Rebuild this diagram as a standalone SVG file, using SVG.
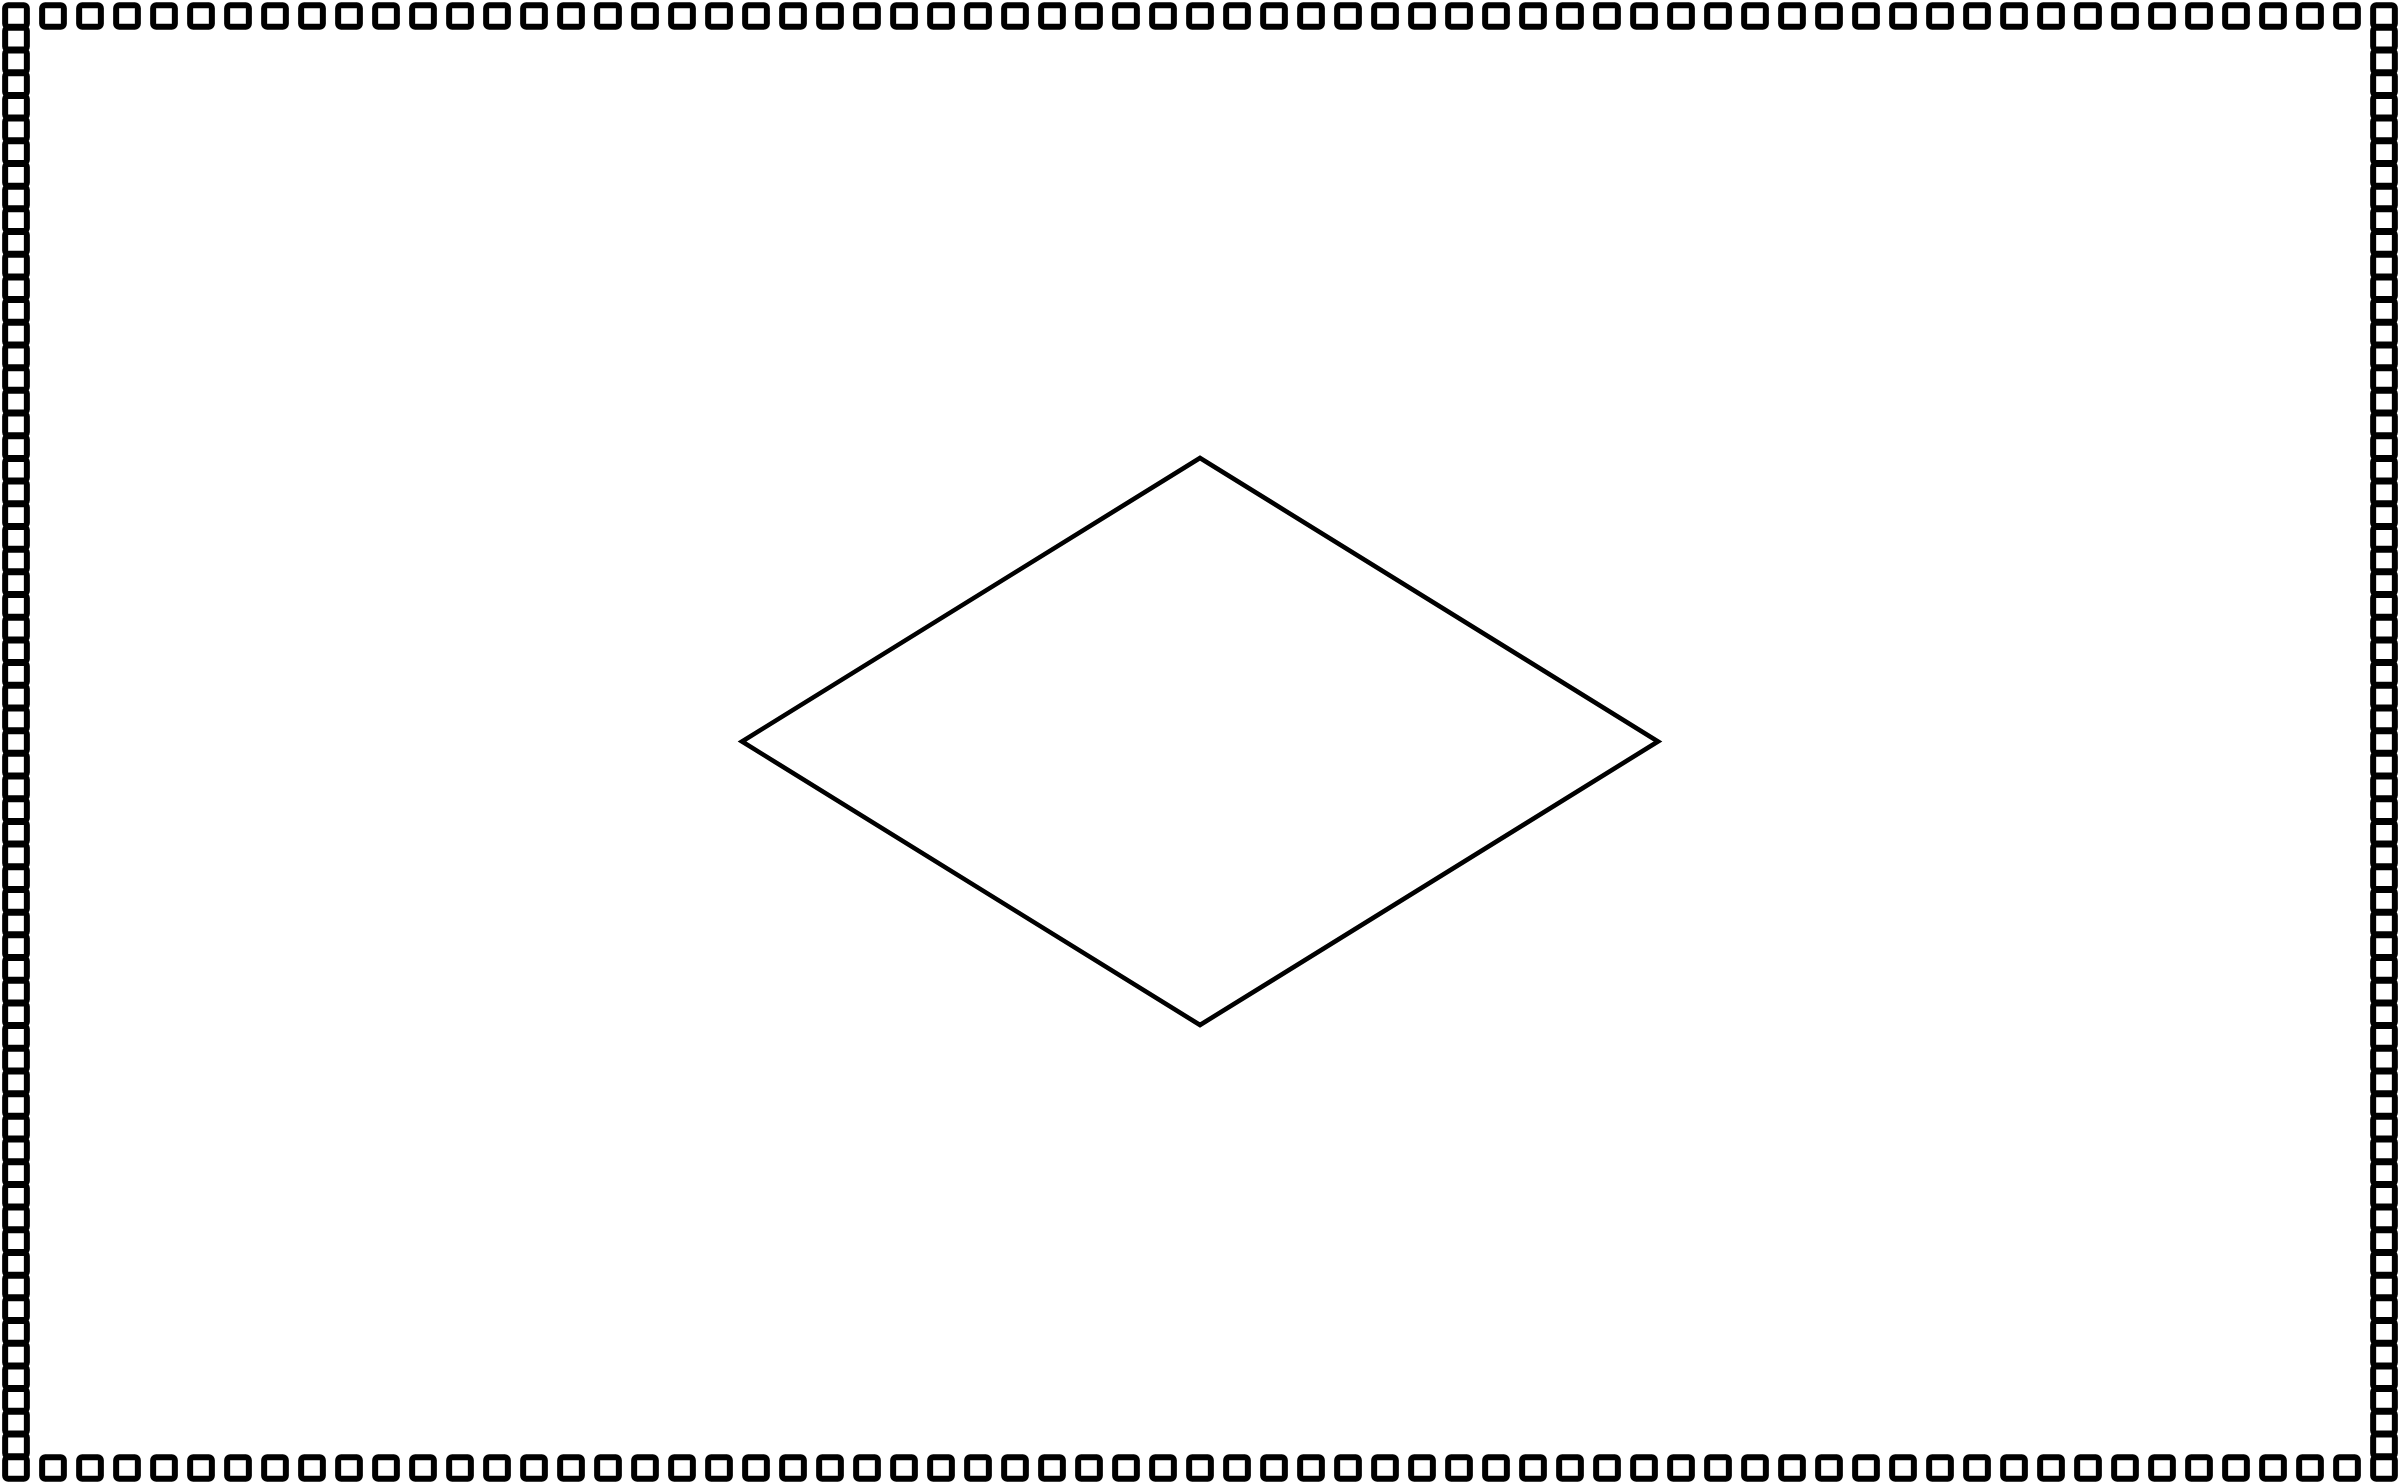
<svg xmlns="http://www.w3.org/2000/svg" xmlns:xlink="http://www.w3.org/1999/xlink" width="2400" height="1483" viewBox="0 0 2400 1483">
<style>
.sq{fill:none;stroke:#000;stroke-width:6}
.shape{fill:none;stroke:#000;stroke-width:4.6;stroke-linejoin:miter}
</style>
<defs>
<rect id="sq" class="sq" x="-10.85" y="-10.85" width="21.7" height="21.7" rx="3" ry="3"/>
</defs>
<rect x="0" y="0" width="2400" height="1483" fill="#fff"/>
<g id="border">
<g id="border-top" transform="translate(0,16)">
<use xlink:href="#sq" x="53"/><use xlink:href="#sq" x="90"/><use xlink:href="#sq" x="127"/><use xlink:href="#sq" x="164"/><use xlink:href="#sq" x="201"/><use xlink:href="#sq" x="238"/><use xlink:href="#sq" x="275"/><use xlink:href="#sq" x="312"/><use xlink:href="#sq" x="349"/><use xlink:href="#sq" x="386"/><use xlink:href="#sq" x="423"/><use xlink:href="#sq" x="460"/><use xlink:href="#sq" x="497"/><use xlink:href="#sq" x="534"/><use xlink:href="#sq" x="571"/><use xlink:href="#sq" x="608"/><use xlink:href="#sq" x="645"/><use xlink:href="#sq" x="682"/><use xlink:href="#sq" x="719"/><use xlink:href="#sq" x="756"/><use xlink:href="#sq" x="793"/><use xlink:href="#sq" x="830"/><use xlink:href="#sq" x="867"/><use xlink:href="#sq" x="904"/><use xlink:href="#sq" x="941"/><use xlink:href="#sq" x="978"/><use xlink:href="#sq" x="1015"/><use xlink:href="#sq" x="1052"/><use xlink:href="#sq" x="1089"/><use xlink:href="#sq" x="1126"/><use xlink:href="#sq" x="1163"/><use xlink:href="#sq" x="1200"/><use xlink:href="#sq" x="1237"/><use xlink:href="#sq" x="1274"/><use xlink:href="#sq" x="1311"/><use xlink:href="#sq" x="1348"/><use xlink:href="#sq" x="1385"/><use xlink:href="#sq" x="1422"/><use xlink:href="#sq" x="1459"/><use xlink:href="#sq" x="1496"/><use xlink:href="#sq" x="1533"/><use xlink:href="#sq" x="1570"/><use xlink:href="#sq" x="1607"/><use xlink:href="#sq" x="1644"/><use xlink:href="#sq" x="1681"/><use xlink:href="#sq" x="1718"/><use xlink:href="#sq" x="1755"/><use xlink:href="#sq" x="1792"/><use xlink:href="#sq" x="1829"/><use xlink:href="#sq" x="1866"/><use xlink:href="#sq" x="1903"/><use xlink:href="#sq" x="1940"/><use xlink:href="#sq" x="1977"/><use xlink:href="#sq" x="2014"/><use xlink:href="#sq" x="2051"/><use xlink:href="#sq" x="2088"/><use xlink:href="#sq" x="2125"/><use xlink:href="#sq" x="2162"/><use xlink:href="#sq" x="2199"/><use xlink:href="#sq" x="2236"/><use xlink:href="#sq" x="2273"/><use xlink:href="#sq" x="2310"/><use xlink:href="#sq" x="2347"/>
</g>
<use id="border-bottom" xlink:href="#border-top" transform="translate(0,1452)"/>
<g id="border-left" transform="translate(16,0)">
<use xlink:href="#sq" y="16"/><use xlink:href="#sq" y="38.69"/><use xlink:href="#sq" y="61.38"/><use xlink:href="#sq" y="84.06"/><use xlink:href="#sq" y="106.75"/><use xlink:href="#sq" y="129.44"/><use xlink:href="#sq" y="152.13"/><use xlink:href="#sq" y="174.81"/><use xlink:href="#sq" y="197.5"/><use xlink:href="#sq" y="220.19"/><use xlink:href="#sq" y="242.88"/><use xlink:href="#sq" y="265.56"/><use xlink:href="#sq" y="288.25"/><use xlink:href="#sq" y="310.94"/><use xlink:href="#sq" y="333.63"/><use xlink:href="#sq" y="356.31"/><use xlink:href="#sq" y="379"/><use xlink:href="#sq" y="401.69"/><use xlink:href="#sq" y="424.38"/><use xlink:href="#sq" y="447.06"/><use xlink:href="#sq" y="469.75"/><use xlink:href="#sq" y="492.44"/><use xlink:href="#sq" y="515.13"/><use xlink:href="#sq" y="537.81"/><use xlink:href="#sq" y="560.5"/><use xlink:href="#sq" y="583.19"/><use xlink:href="#sq" y="605.88"/><use xlink:href="#sq" y="628.56"/><use xlink:href="#sq" y="651.25"/><use xlink:href="#sq" y="673.94"/><use xlink:href="#sq" y="696.63"/><use xlink:href="#sq" y="719.31"/><use xlink:href="#sq" y="742"/><use xlink:href="#sq" y="764.69"/><use xlink:href="#sq" y="787.38"/><use xlink:href="#sq" y="810.06"/><use xlink:href="#sq" y="832.75"/><use xlink:href="#sq" y="855.44"/><use xlink:href="#sq" y="878.13"/><use xlink:href="#sq" y="900.81"/><use xlink:href="#sq" y="923.5"/><use xlink:href="#sq" y="946.19"/><use xlink:href="#sq" y="968.88"/><use xlink:href="#sq" y="991.56"/><use xlink:href="#sq" y="1014.25"/><use xlink:href="#sq" y="1036.94"/><use xlink:href="#sq" y="1059.63"/><use xlink:href="#sq" y="1082.31"/><use xlink:href="#sq" y="1105"/><use xlink:href="#sq" y="1127.69"/><use xlink:href="#sq" y="1150.38"/><use xlink:href="#sq" y="1173.06"/><use xlink:href="#sq" y="1195.75"/><use xlink:href="#sq" y="1218.44"/><use xlink:href="#sq" y="1241.13"/><use xlink:href="#sq" y="1263.81"/><use xlink:href="#sq" y="1286.5"/><use xlink:href="#sq" y="1309.19"/><use xlink:href="#sq" y="1331.88"/><use xlink:href="#sq" y="1354.56"/><use xlink:href="#sq" y="1377.25"/><use xlink:href="#sq" y="1399.94"/><use xlink:href="#sq" y="1422.63"/><use xlink:href="#sq" y="1445.31"/><use xlink:href="#sq" y="1468"/>
</g>
<use id="border-right" xlink:href="#border-left" transform="translate(2368,0)"/>
</g>
<g id="connectors"/>
<g id="node-diamond">
<polygon class="shape" points="1200,458 1658,741.5 1200,1025 742,741.5"/>
</g>
</svg>
